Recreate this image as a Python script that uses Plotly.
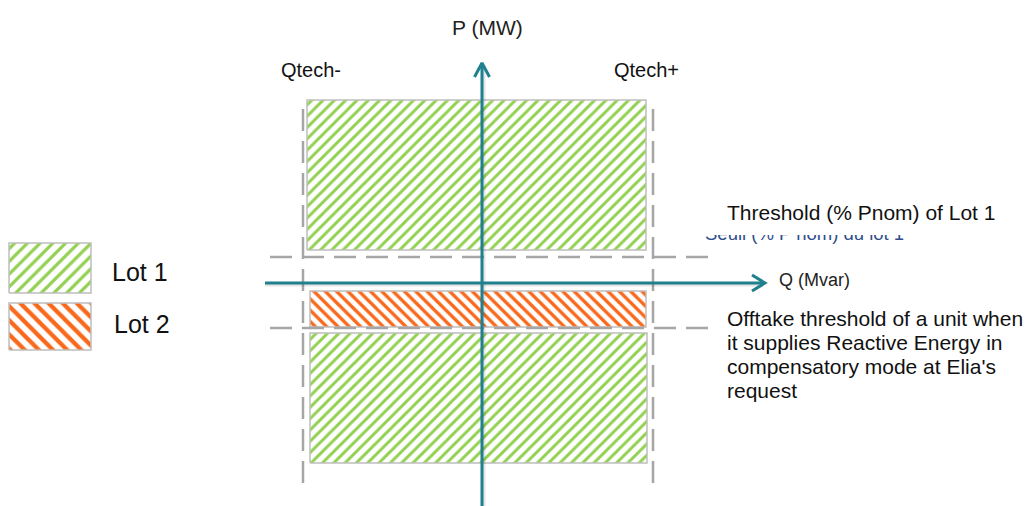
import plotly.graph_objects as go

# ---------------- diagram values (units: Q in Mvar-like units, P in MW-like units; origin at axes crossing)
Q_TECH_LABELS = ["Qtech-", "Qtech+"]
Q_TECH = [-179, 171]                 # technical reactive limits (dashed verticals)
Q_TECH_P_SPAN = [-200, 183]          # vertical extent of those dashed lines

THRESHOLD_P = [26, -45]              # Lot 1 threshold, offtake threshold (dashed horizontals)
THRESHOLD_Q_SPAN = [-212, 226]

LOT1_UPPER_Q = [-175, 164]
LOT1_UPPER_P = [33, 183]
LOT2_Q = [-172, 164]
LOT2_P = [-44, -8]
LOT1_LOWER_Q = [-172, 165]
LOT1_LOWER_P = [-180, -50]

Q_AXIS_SPAN = [-217, 283]
P_AXIS_SPAN = [-240, 220]

LEGEND_LABELS = ["Lot 1", "Lot 2"]
LEGEND_Q = [-473, -391]
LEGEND_P = [[-10, 40], [-67, -20]]

# page has an 8px body margin, ranges compensate for it
X_RANGE = [-474, 558]
Y_RANGE = [-231, 275]

GREEN = "#92D050"
ORANGE = "#F9691C"
TEAL = "#20808E"
DASH_GREY = "#A6A6A6"
BORDER_GREY = "#BFBFBF"
FONT = "Liberation Sans, Arial, sans-serif"


def rect(q, p):
    return ([q[0], q[1], q[1], q[0], q[0]], [p[0], p[0], p[1], p[1], p[0]])


fig = go.Figure()


def add_hatched(q, p, color, shape, size, solidity):
    xs, ys = rect(q, p)
    fig.add_trace(go.Scatter(
        x=xs, y=ys, mode="lines", fill="toself",
        fillcolor="white",
        fillpattern=dict(shape=shape, fgcolor=color, bgcolor="white", fgopacity=1,
                         size=size, solidity=solidity),
        line=dict(color=BORDER_GREY, width=1.5),
        hoverinfo="skip"))


add_hatched(LOT1_UPPER_Q, LOT1_UPPER_P, GREEN, "/", 8, 0.36)
add_hatched(LOT2_Q, LOT2_P, ORANGE, "\\", 8, 0.42)
add_hatched(LOT1_LOWER_Q, LOT1_LOWER_P, GREEN, "/", 8, 0.36)
add_hatched(LEGEND_Q, LEGEND_P[0], GREEN, "/", 9, 0.36)
add_hatched(LEGEND_Q, LEGEND_P[1], ORANGE, "\\", 10, 0.42)

# dashed guide lines
for q in Q_TECH:
    fig.add_trace(go.Scatter(x=[q, q], y=Q_TECH_P_SPAN, mode="lines",
                             line=dict(color=DASH_GREY, width=2.5, dash="22px,10px"),
                             hoverinfo="skip"))
for p in THRESHOLD_P:
    fig.add_trace(go.Scatter(x=THRESHOLD_Q_SPAN, y=[p, p], mode="lines",
                             line=dict(color=DASH_GREY, width=2.5, dash="22px,10px"),
                             hoverinfo="skip"))

# axis shadows
fig.add_trace(go.Scatter(x=[Q_AXIS_SPAN[0], Q_AXIS_SPAN[1] - 2], y=[-2, -2], mode="lines",
                         line=dict(color="rgba(0,0,0,0.10)", width=3), hoverinfo="skip"))
fig.add_trace(go.Scatter(x=[2, 2], y=[P_AXIS_SPAN[0], P_AXIS_SPAN[1] - 2], mode="lines",
                         line=dict(color="rgba(0,0,0,0.10)", width=3), hoverinfo="skip"))

# axes
fig.add_trace(go.Scatter(x=Q_AXIS_SPAN, y=[0, 0], mode="lines",
                         line=dict(color=TEAL, width=3), hoverinfo="skip"))
fig.add_trace(go.Scatter(x=[0, 0], y=P_AXIS_SPAN, mode="lines",
                         line=dict(color=TEAL, width=3), hoverinfo="skip"))
# arrow heads (chevrons) derived from axis ends
qt = Q_AXIS_SPAN[1]
fig.add_trace(go.Scatter(x=[qt - 13, qt, qt - 13], y=[8, 0, -8], mode="lines",
                         line=dict(color=TEAL, width=3), hoverinfo="skip"))
pt = P_AXIS_SPAN[1]
fig.add_trace(go.Scatter(x=[-7.5, 0, 7.5], y=[pt - 14, pt, pt - 14], mode="lines",
                         line=dict(color=TEAL, width=3), hoverinfo="skip"))

# clipped French label (partly hidden in the original)
fig.add_trace(go.Scatter(x=[THRESHOLD_Q_SPAN[1] - 3], y=[THRESHOLD_P[0] + 21.5], mode="text",
                         text=["Seuil (% P nom) du lot 1"], textposition="middle right",
                         textfont=dict(family=FONT, size=18.5, color="#2F4E8C"),
                         hoverinfo="skip"))
fig.add_shape(type="rect", x0=THRESHOLD_Q_SPAN[1] - 5, x1=X_RANGE[1], y0=THRESHOLD_P[0] + 22,
              y1=THRESHOLD_P[0] + 40, fillcolor="white", line=dict(width=0), layer="above")

ann = []


def txt(x, y, s, size, anchor="left", color="#111111"):
    ann.append(dict(x=x, y=y, text=s, showarrow=False, xanchor=anchor, yanchor="middle",
                    font=dict(family=FONT, size=size, color=color), borderpad=0))


txt(5, 256, "P (MW)", 21, "center", "#222222")
txt(Q_TECH[0] + 7.5, 213.5, Q_TECH_LABELS[0], 20, "center")
txt(Q_TECH[1] - 6.5, 213.5, Q_TECH_LABELS[1], 20, "center")
txt(Q_AXIS_SPAN[1] + 13, 3, "Q (Mvar)", 18, "left", "#222222")
txt(244, 70.5, "Threshold (% Pnom) of Lot 1", 21, "left")
offtake = ["Offtake threshold of a unit when",
           "it supplies Reactive Energy in",
           "compensatory mode at Elia's",
           "request"]
for i, line in enumerate(offtake):
    txt(244, -35.5 - 24 * i, line, 21, "left")
txt(-371, 11.5, LEGEND_LABELS[0], 25, "left")
txt(-369, -41, LEGEND_LABELS[1], 25, "left")

fig.update_layout(
    width=1032, height=506,
    margin=dict(l=0, r=0, t=0, b=0),
    paper_bgcolor="white", plot_bgcolor="white",
    showlegend=False,
    annotations=ann,
    xaxis=dict(range=X_RANGE, visible=False, fixedrange=True),
    yaxis=dict(range=Y_RANGE, visible=False, fixedrange=True),
)

fig.write_html("out.html")
